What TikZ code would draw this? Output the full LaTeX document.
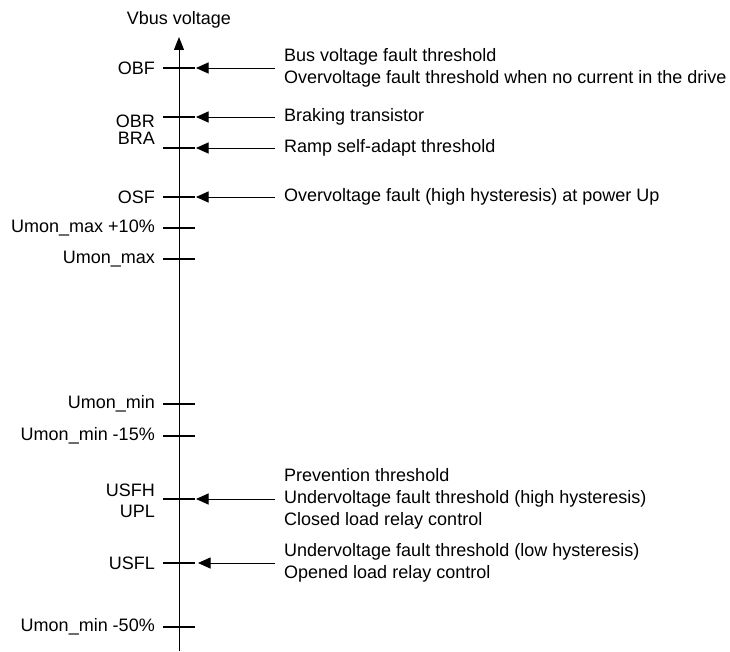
\documentclass[tikz,border=0pt]{standalone}
\usepackage{fontspec}
\setmainfont{Liberation Sans}
\usetikzlibrary{arrows.meta}
\begin{document}
\begin{tikzpicture}[x=1pt,y=-1pt,
  lbl/.style={font=\fontsize{18}{22}\selectfont, inner sep=0pt},
  leftlbl/.style={lbl, anchor=east, align=right},
  rightlbl/.style={lbl, anchor=west, align=left, inner xsep=9pt},
  tickline/.style={line width=1.3pt},
  axisline/.style={line width=1pt, -{Triangle[length=13pt,width=10pt]}},
  pointer/.style={line width=0.9pt, -{Triangle[length=12.5pt,width=11pt]}}]
\useasboundingbox (0,0) rectangle (730,652);
% axis
\coordinate (axbot) at (179,651);
\coordinate (axtop) at (179,37);
\draw[axisline] (axbot) -- (axtop);
\node[lbl] (title) at (179,20) {Vbus voltage};
% ticks
\foreach \n/\y in {obf/68, obr/117, bra/148, osf/197, umx/228, umax/259, umin/404, um15/436, usfh/499, usfl/563, um50/627}{
  \coordinate (\n L) at (163,\y);
  \coordinate (\n R) at (195,\y);
  \draw[tickline] (\n L) -- (\n R);
}
% left labels
\node[leftlbl] (lobf) at (155,68) {OBF};
\node[leftlbl] (lobr) at (155,121) {OBR};
\node[leftlbl] (lbra) at (155,138) {BRA};
\node[leftlbl] (losf) at (155,197) {OSF};
\node[leftlbl] (lumx) at (155,228) {Umon\_max +10\%};
\node[leftlbl] (lumax) at (155,259) {Umon\_max};
\node[leftlbl] (lumin) at (155,404) {Umon\_min};
\node[leftlbl] (lum15) at (155,436) {Umon\_min -15\%};
\node[leftlbl] (lusfh) at (155,490) {USFH};
\node[leftlbl] (lupl) at (155,511) {UPL};
\node[leftlbl] (lusfl) at (155,563) {USFL};
\node[leftlbl] (lum50) at (155,627) {Umon\_min -50\%};
% right labels
\node[rightlbl] (robf) at (275,68) {Bus voltage fault threshold\\Overvoltage fault threshold when no current in the drive};
\node[rightlbl] (robr) at (275,117) {Braking transistor};
\node[rightlbl] (rbra) at (275,148) {Ramp self-adapt threshold};
\node[rightlbl] (rosf) at (275,197) {Overvoltage fault (high hysteresis) at power Up};
\node[rightlbl] (rusfh) at (275,499) {Prevention threshold\\Undervoltage fault threshold (high hysteresis)\\Closed load relay control};
\node[rightlbl] (rusfl) at (275,563) {Undervoltage fault threshold (low hysteresis)\\Opened load relay control};
% pointers
\coordinate (pobf) at (196,68);
\coordinate (pobr) at (196,117);
\coordinate (pbra) at (196,148);
\coordinate (posf) at (196,197);
\coordinate (pusfh) at (196,499);
\coordinate (pusfl) at (198,563);
\draw[pointer] (robf.west) -- (pobf);
\draw[pointer] (robr.west) -- (pobr);
\draw[pointer] (rbra.west) -- (pbra);
\draw[pointer] (rosf.west) -- (posf);
\draw[pointer] (rusfh.west) -- (pusfh);
\draw[pointer] (rusfl.west) -- (pusfl);
\end{tikzpicture}
\end{document}
